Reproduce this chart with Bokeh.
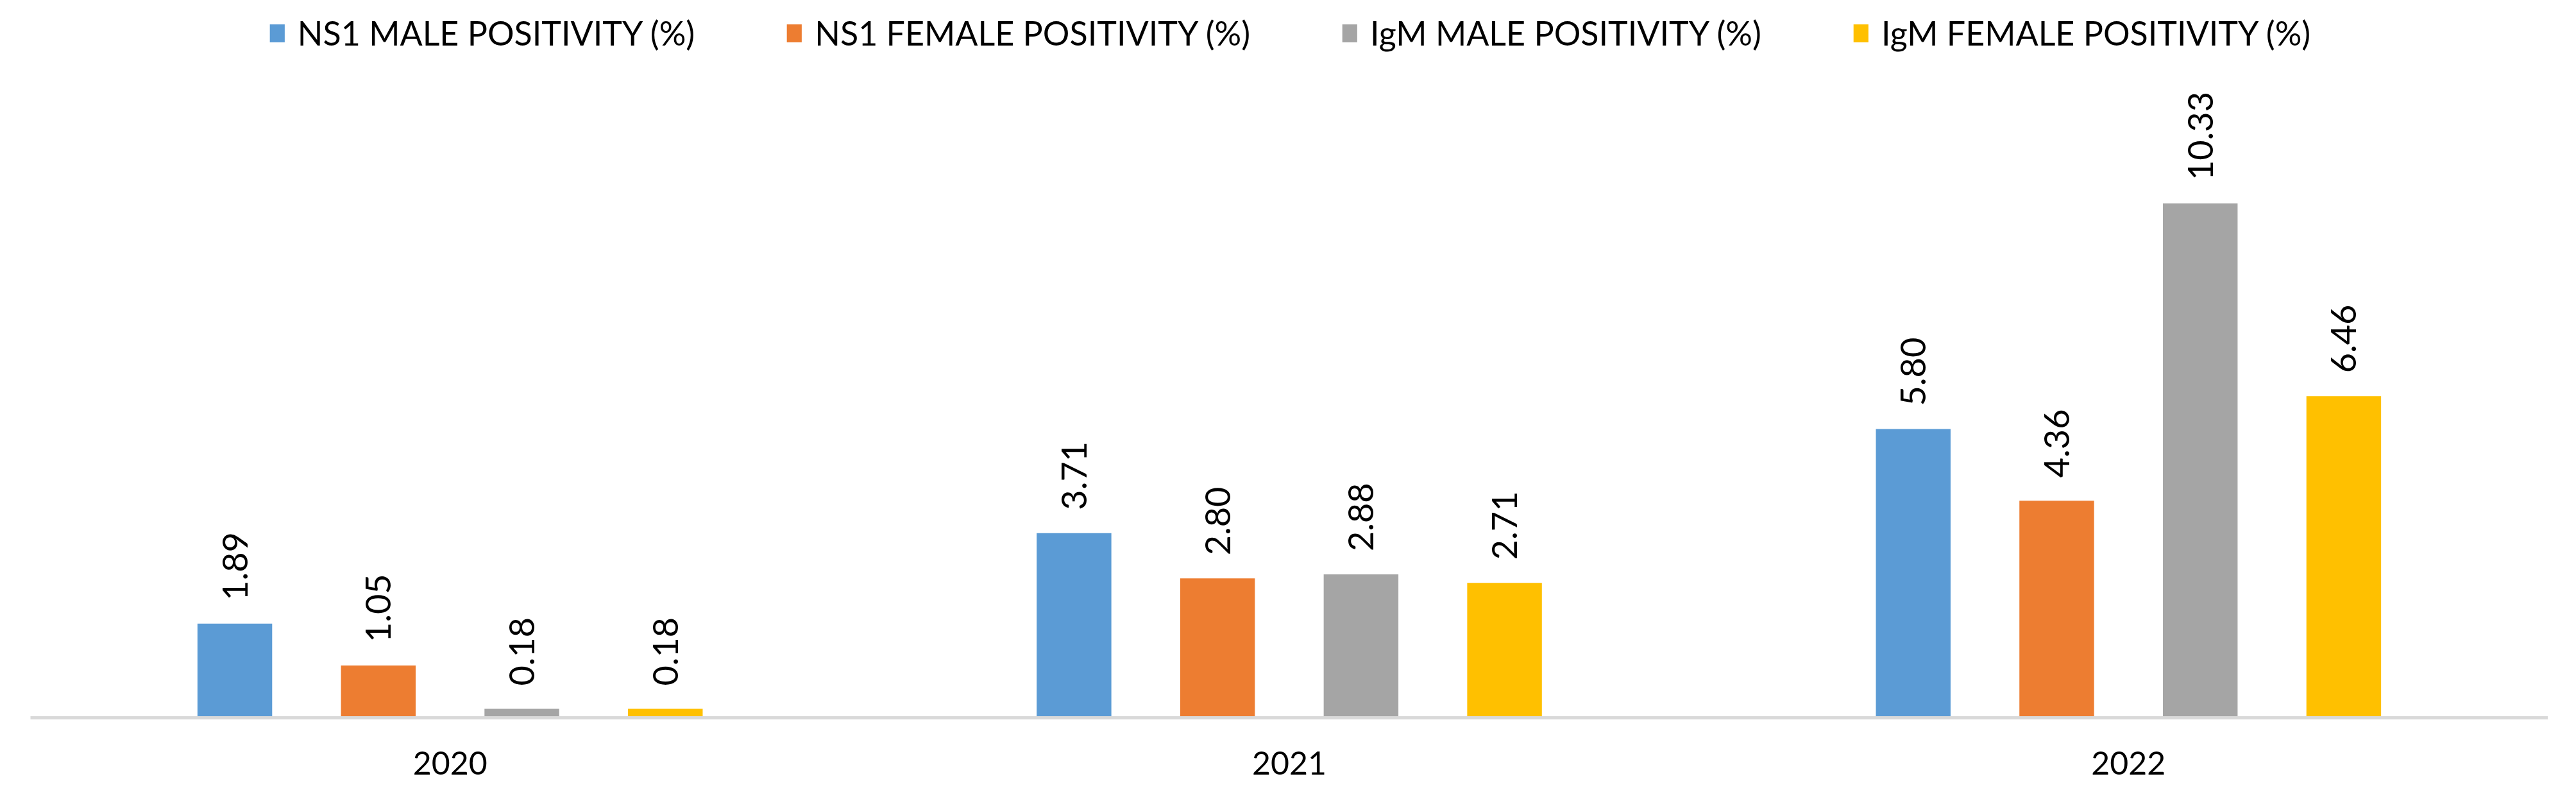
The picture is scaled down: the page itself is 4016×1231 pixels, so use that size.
from bokeh.plotting import figure
from bokeh.models import ColumnDataSource, FactorRange, Range1d, Legend, LegendItem
from bokeh.transform import dodge
from bokeh.core.properties import value
from bokeh.embed import file_html
from bokeh.resources import INLINE

years = ["2020", "2021", "2022"]
series_names = [
    "NS1 MALE POSITIVITY (%)",
    "NS1 FEMALE POSITIVITY (%)",
    "IgM MALE POSITIVITY (%)",
    "IgM FEMALE POSITIVITY (%)",
]
ns1_male = [1.89, 3.71, 5.80]
ns1_female = [1.05, 2.80, 4.36]
igm_male = [0.18, 2.88, 10.33]
igm_female = [0.18, 2.71, 6.46]

colors = ["#5B9BD5", "#ED7D31", "#A5A5A5", "#FFC000"]
offsets = [-0.2565, -0.0855, 0.0855, 0.2565]
all_values = [ns1_male, ns1_female, igm_male, igm_female]

FONT = "Lato"

p = figure(
    x_range=FactorRange(*years, range_padding=0),
    y_range=Range1d(0, 14.41),
    frame_width=3925,
    frame_height=1118,
    min_border_left=47,
    min_border_right=0,
    min_border_top=0,
    min_border_bottom=112,
    output_backend="svg",
    toolbar_location=None,
    y_axis_location=None,
)
p.outline_line_color = None
p.xgrid.visible = False
p.ygrid.visible = False
p.background_fill_color = "white"
p.border_fill_color = "white"

items = []
for name, vals, col, off in zip(series_names, all_values, colors, offsets):
    src = ColumnDataSource(dict(
        year=years,
        val=vals,
        lab=["%.2f" % v for v in vals],
    ))
    r = p.vbar(x=dodge("year", off, range=p.x_range), top="val", width=0.089,
               source=src, fill_color=col, line_color=None)
    p.text(x=dodge("year", off, range=p.x_range), y="val", text="lab", source=src,
           angle=1.5707963, text_align="left", text_baseline="middle",
           y_offset=-36, text_font=value(FONT), text_font_size="54px",
           text_color="#000000")
    items.append(LegendItem(label=name, renderers=[r]))

legend = Legend(items=items, orientation="horizontal", location="top_center")
legend.glyph_width = 29
legend.glyph_height = 35
legend.label_standoff = 18
legend.spacing = 140
legend.padding = 0
legend.margin = 20
legend.border_line_color = None
legend.background_fill_alpha = 0
legend.label_text_font = FONT
legend.label_text_font_size = "52px"
legend.label_text_color = "#000000"
p.add_layout(legend, "center")

ax = p.xaxis[0]
ax.axis_line_color = "#D9D9D9"
ax.axis_line_width = 5
ax.major_tick_line_color = None
ax.minor_tick_line_color = None
ax.major_tick_out = 0
ax.major_tick_in = 0
ax.major_label_standoff = 52
ax.major_label_text_font = FONT
ax.major_label_text_font_size = "50px"
ax.major_label_text_color = "#000000"

open("out.html", "w").write(file_html(p, INLINE))
